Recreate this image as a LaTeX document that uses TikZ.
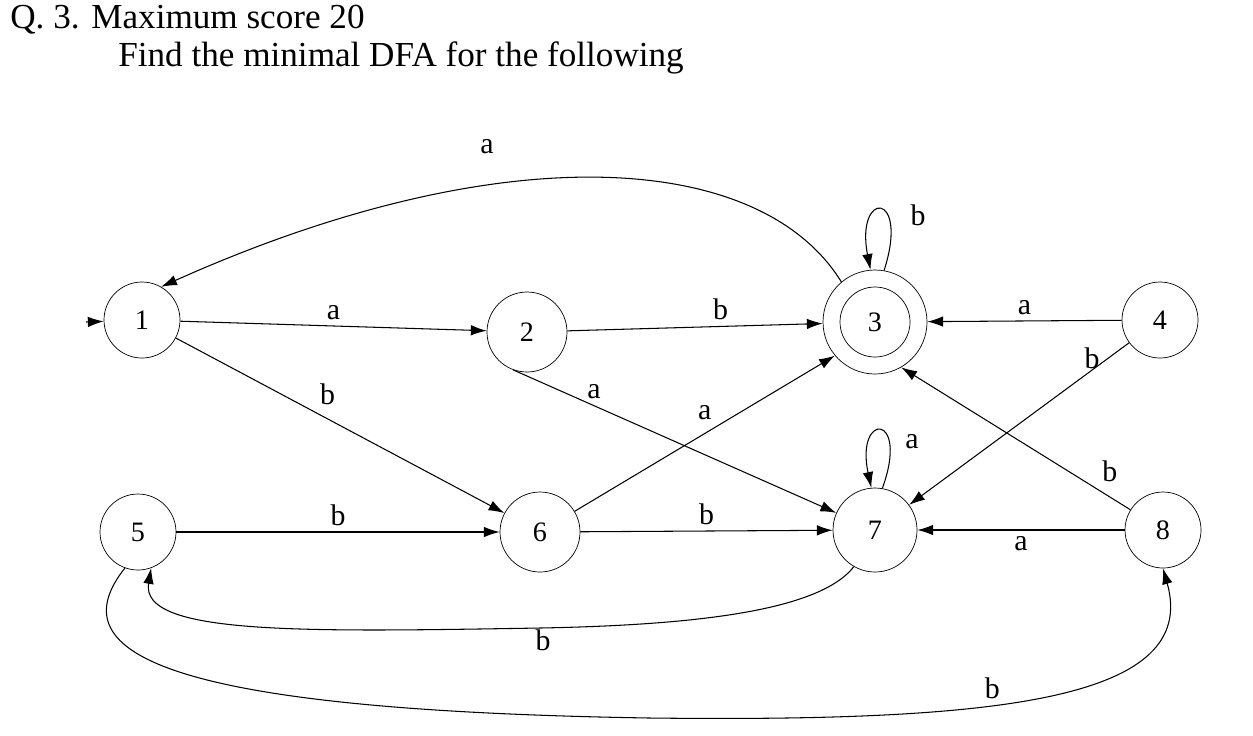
\documentclass[tikz,border=0pt]{standalone}
\usepackage{fontspec}
\setmainfont{Liberation Serif}
\usetikzlibrary{arrows.meta}
\begin{document}
\begin{tikzpicture}[x=0.02cm,y=-0.02cm,
  st/.style={circle,draw,inner sep=0pt,minimum size=76*0.02cm,font=\fontsize{16}{16}\selectfont},
  lbl/.style={font=\fontsize{17}{17}\selectfont},
  edge/.style={draw,line width=0.6pt,-{Latex[length=9pt,width=6pt]}},
  title/.style={font=\fontsize{20}{20}\selectfont,anchor=base west,inner sep=0pt}]
\useasboundingbox (0,0) rectangle (1253,735);
\node[title] (t1) at (10,28) {Q. 3. Maximum score 20};
\node[title] (t2) at (118,66) {Find the minimal DFA for the following};
\node[st] (n1) at (142,320) {1};
\node[st,minimum size=80*0.02cm] (n2) at (527,332) {2};
\node[st,minimum size=70*0.02cm] (n3) at (875,322) {3};
\node[circle,draw,minimum size=104*0.02cm] (n3o) at (875,322) {};
\node[st] (n4) at (1160,320) {4};
\node[st] (n5) at (138,532) {5};
\node[st,minimum size=80*0.02cm] (n6) at (540,532) {6};
\node[st,minimum size=84*0.02cm] (n7) at (875,530) {7};
\node[st] (n8) at (1163,530) {8};
\coordinate (s0) at (86,322);
\path[edge] (s0) -- (n1);
\path[edge] (n3o.130) .. controls (760,150) and (500,135) .. (n1.60);
\node[lbl] (la) at (487,147) {a};
\path[edge] (n1) -- node[lbl,above]{a} (n2);
\path[edge] (n2) -- node[lbl,above,pos=0.6]{b} (n3o);
\path[edge] (n1) -- node[lbl,above right,pos=0.42]{b} (n6);
\path[edge] (n2.-110) -- node[lbl,above,pos=0.25]{a} (n7);
\path[edge] (n6) -- node[lbl,above left,pos=0.55]{a} (n3o.-140);
\path[edge] (n4) -- node[lbl,above,pos=0.5]{a} (n3o);
\path[edge] (n4) -- node[lbl,above,pos=0.2,xshift=4pt]{b} (n7);
\path[edge] (n8) -- node[lbl,above right,pos=0.15]{b} (n3o.-60);
\path[edge] (n5) -- node[lbl,above]{b} (n6);
\path[edge] (n6) -- node[lbl,above]{b} (n7);
\path[edge] (n8) -- node[lbl,below]{a} (n7);
\path[edge] (n7.-120) .. controls (820,610) and (700,625) .. (540,628) .. controls (300,632) and (140,635) .. (n5.-70);
\node[lbl] (lb7) at (543,640) {b};
\path[edge] (n5.-110) .. controls (60,650) and (150,710) .. (650,718) .. controls (1000,722) and (1200,700) .. node[lbl,above,pos=0.4]{b} (n8.-90);
\path[edge] (n3o.80) .. controls (910,190) and (855,190) .. (n3o.95);
\node[lbl] (lb3) at (918,215) {b};
\path[edge] (n7.80) .. controls (910,412) and (855,412) .. (n7.95);
\node[lbl] (lb7a) at (912,442) {a};
\end{tikzpicture}
\end{document}
